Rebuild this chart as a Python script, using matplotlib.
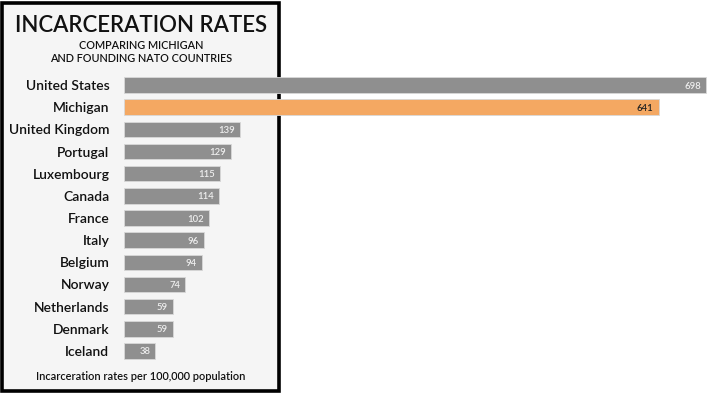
import matplotlib.pyplot as plt
from matplotlib.patches import Rectangle

countries = ['United States', 'Michigan', 'United Kingdom', 'Portugal', 'Luxembourg',
             'Canada', 'France', 'Italy', 'Belgium', 'Norway', 'Netherlands',
             'Denmark', 'Iceland']
rates = [698, 641, 139, 129, 115, 114, 102, 96, 94, 74, 59, 59, 38]
highlight = 'Michigan'

title = 'INCARCERATION RATES'
subtitle = 'COMPARING MICHIGAN\nAND FOUNDING NATO COUNTRIES'
footer = 'Incarceration rates per 100,000 population'

W, H = 720, 393
font = ['Lato', 'DejaVu Sans']

fig = plt.figure(figsize=(W / 100, H / 100), dpi=100)
fig.patch.set_facecolor('white')

# framed panel on the left
box = Rectangle((2 / W, 2 / H), 277 / W, 388 / H, transform=fig.transFigure,
                facecolor='#f5f5f5', edgecolor='black', linewidth=2.6, zorder=-1)
fig.patches.append(box)

fig.text(141 / W, 1 - 23 / H, title, ha='center', va='center_baseline', fontsize=16,
         family=font, weight='semibold', color='#111111')
fig.text(141 / W, 1 - 52 / H, subtitle, ha='center', va='center', fontsize=7.8,
         family=font, weight='semibold', color='#111111', linespacing=1.3)
fig.text(141 / W, 1 - 377 / H, footer, ha='center', va='center', fontsize=7.9,
         family=font, weight='semibold', color='#111111')

# bars: axes from x=123px to right edge, rows 22.17px apart
ax = fig.add_axes([123.5 / W, 1 - 362 / H, (W - 123.5) / W, 288 / H])
ax.set_zorder(2)
ax.patch.set_alpha(0)
ax.set_xlim(0, (W - 123.5) / 0.835)
ax.set_ylim(len(countries) - 0.5, -0.5)

for i, (c, v) in enumerate(zip(countries, rates)):
    col = '#f4a862' if c == highlight else '#8f8f8f'
    ax.barh(i, v, height=0.7, color=col, edgecolor='#d8d8d8', linewidth=0.6)
    ax.text(v - 6, i, str(v), ha='right', va='center_baseline', fontsize=6.8,
            family=font, weight='semibold',
            color='#222222' if c == highlight else '#eeeeee')
    ax.text(-14 / 0.835, i, c, ha='right', va='center_baseline', fontsize=10,
            family=font, weight='semibold', color='#111111', clip_on=False)

ax.axis('off')
fig.savefig('out.png', dpi=100)
